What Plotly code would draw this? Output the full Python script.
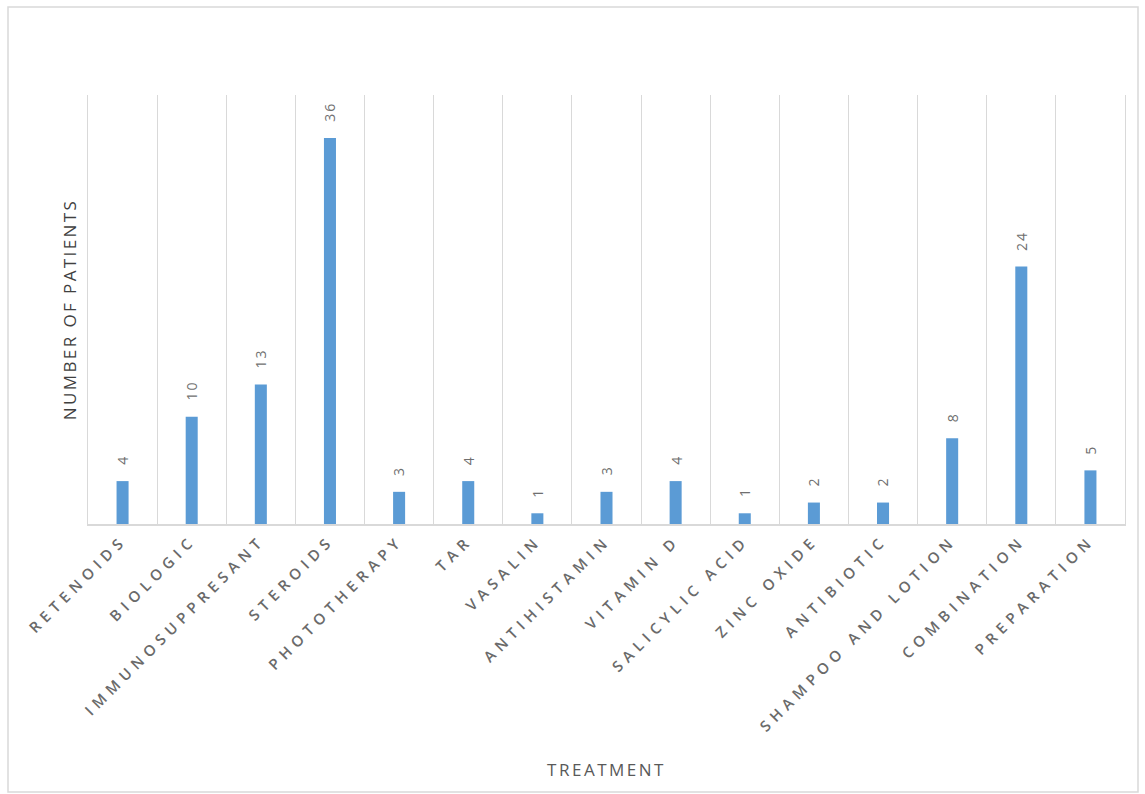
import plotly.graph_objects as go

categories = ["RETENOIDS", "BIOLOGIC", "IMMUNOSUPPRESANT", "STEROIDS", "PHOTOTHERAPY",
              "TAR", "VASALIN", "ANTIHISTAMIN", "VITAMIN D", "SALICYLIC ACID",
              "ZINC OXIDE", "ANTIBIOTIC", "SHAMPOO AND LOTION", "COMBINATION", "PREPARATION"]
patients = [4, 10, 13, 36, 3, 4, 1, 3, 4, 1, 2, 2, 8, 24, 5]

x_title = "TREATMENT"
y_title = "NUMBER OF PATIENTS"

W, H = 1145, 794
L, R, T, B = 88, 20, 95, 270
pw, ph = W - L - R, H - T - B


def spaced(s, px):
    return '<span style="letter-spacing:%.1fpx">%s</span>' % (px, s)


fig = go.Figure()
fig.add_trace(go.Bar(
    x=categories, y=patients,
    marker=dict(color="#5b9bd5", line=dict(width=0)),
    hoverinfo="x+y",
))

for c, v in zip(categories, patients):
    fig.add_annotation(
        x=c, y=v, text=spaced(str(v), 2), showarrow=False,
        textangle=-90, xanchor="center", yanchor="bottom", yshift=14,
        font=dict(family="Open Sans", size=14, color="#6f6f6f"),
    )

# outer chart border
fig.add_shape(type="rect", xref="paper", yref="paper",
              x0=(8 - L) / pw, x1=(1138 - L) / pw,
              y0=-(792 - (H - B)) / ph, y1=((H - B) - 7) / ph,
              line=dict(color="#d9d9d9", width=1.5), layer="below")

fig.update_layout(
    width=W, height=H,
    margin=dict(l=L, r=R, t=T, b=B, autoexpand=False),
    paper_bgcolor="white", plot_bgcolor="white",
    bargap=0.826,
    showlegend=False,
    font=dict(family="Open Sans", color="#595959"),
)
fig.update_xaxes(
    type="category", tickson="boundaries", showgrid=True, gridcolor="#d9d9d9", gridwidth=1,
    showline=True, linecolor="#d9d9d9", linewidth=1.5, ticks="", ticklen=0,
    tickmode="array", tickvals=categories, ticktext=[spaced(c, 5.4) for c in categories],
    tickangle=-45, tickfont=dict(family="Open Sans", size=15, color="#6a6a6a", weight=600),
    title=dict(text=spaced(x_title, 2.5), font=dict(family="Open Sans", size=17, color="#595959"),
               standoff=30),
    automargin=False, zeroline=False,
)
fig.update_yaxes(
    range=[0, 40], showgrid=False, showticklabels=False, zeroline=False,
    showline=True, mirror=True, linecolor="#d9d9d9", linewidth=1,
    title=dict(text=spaced(y_title, 2.4), font=dict(family="Open Sans", size=17, color="#404040"),
               standoff=6),
    automargin=False,
)

fig.write_html("out.html")
